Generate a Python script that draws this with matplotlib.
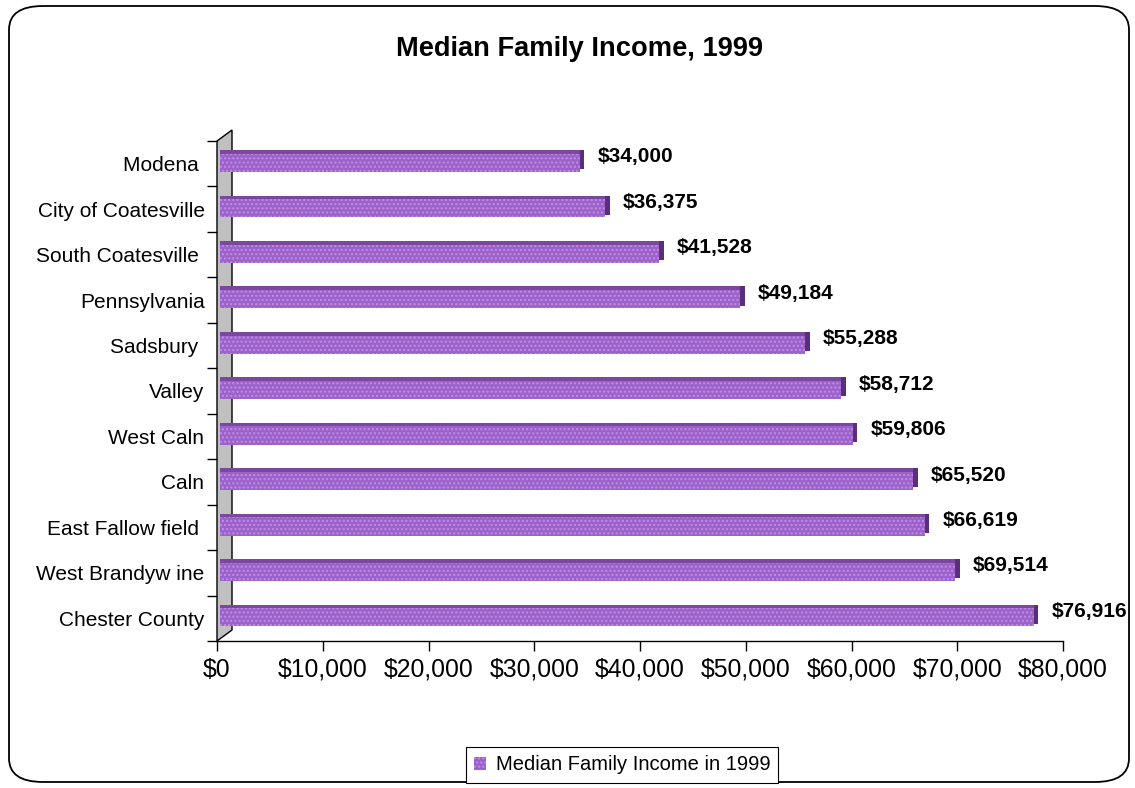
import numpy as np
import matplotlib
matplotlib.use('Agg')
import matplotlib.pyplot as plt
from matplotlib.patches import FancyBboxPatch, Polygon, Patch

plt.rcParams['font.family'] = ['Liberation Sans', 'DejaVu Sans']

# data, top to bottom as in the chart
places = ['Modena ', 'City of Coatesville', 'South Coatesville ', 'Pennsylvania',
          'Sadsbury ', 'Valley', 'West Caln', 'Caln', 'East Fallow field ',
          'West Brandyw ine', 'Chester County']
income = [34000, 36375, 41528, 49184, 55288, 58712, 59806, 65520, 66619, 69514, 76916]
xticks = [0, 10000, 20000, 30000, 40000, 50000, 60000, 70000, 80000]

W, H = 1135, 788
fig = plt.figure(figsize=(W / 100, H / 100), dpi=100)

# rounded outer border
fig.patches.append(FancyBboxPatch((9 / W, 6 / H), 1120 / W, 776 / H,
                                  boxstyle='round,pad=0,rounding_size=0.03',
                                  transform=fig.transFigure, fill=False,
                                  edgecolor='black', linewidth=1.3))

ax = fig.add_axes([217 / W, 1 - 641 / H, 846 / W, 500 / H])

y = np.arange(len(places))
bar_col = '#9b63c9'
top_col = '#7b479f'
end_col = '#5b2d7c'
bh = 0.48
yc = y - 0.06

# grey 3d side wall, behind the bars
wall = Polygon([(217 / W, 1 - 641 / H), (232 / W, 1 - 630 / H),
                (232 / W, 1 - 130 / H), (217 / W, 1 - 141 / H)],
               closed=True, transform=fig.transFigure, facecolor='#c0c0c0',
               edgecolor='black', linewidth=1.0, zorder=1, clip_on=False)
ax.add_patch(wall)

ax.barh(yc, income, height=bh, left=300, color=bar_col, hatch='....', edgecolor='#c58ce6',
        linewidth=0, zorder=3)
ax.barh(yc - bh / 2 + 0.04, income, height=0.08, left=300, color=top_col, linewidth=0, zorder=4)
ax.barh(yc - 0.03, [450] * len(income), left=np.array(income) + 300, height=bh - 0.06,
        color=end_col, linewidth=0, zorder=4)

for yy, v in zip(yc, income):
    ax.annotate('${:,}'.format(v), (v, yy), xytext=(15, 3), textcoords='offset points',
                ha='left', va='center', fontsize=15, fontweight='bold', zorder=5)

ax.set_xlim(0, 80000)
ax.set_ylim(len(places) - 0.5, -0.5)

for s in ['top', 'right', 'left']:
    ax.spines[s].set_visible(False)
ax.spines['bottom'].set_linewidth(1.0)

ax.set_xticks(xticks)
ax.set_xticklabels(['${:,}'.format(t) for t in xticks], fontsize=17.8)
ax.tick_params(axis='x', length=7, width=1.0, pad=5)

ax.set_yticks(np.arange(-0.5, len(places), 1.0))
ax.set_yticklabels([])
ax.tick_params(axis='y', which='major', length=7, width=1.0)
ax.set_yticks(y, minor=True)
ax.set_yticklabels(places, minor=True, fontsize=15)
ax.tick_params(axis='y', which='minor', length=0, pad=9)

fig.text(580 / W, 1 - 49 / H, 'Median Family Income, 1999', ha='center', va='center',
         fontsize=19.6, fontweight='bold')

leg = fig.legend(handles=[Patch(facecolor=bar_col, hatch='....', edgecolor='#c58ce6',
                                linewidth=0)],
                 labels=['Median Family Income in 1999'], loc='center',
                 bbox_to_anchor=(622 / W, 1 - 765 / H), fontsize=14.5, fancybox=False,
                 edgecolor='black', framealpha=1, handlelength=0.6, handleheight=0.6,
                 handletextpad=0.5, borderpad=0.4)
leg.get_frame().set_linewidth(0.8)

fig.savefig('out.png', dpi=100)
